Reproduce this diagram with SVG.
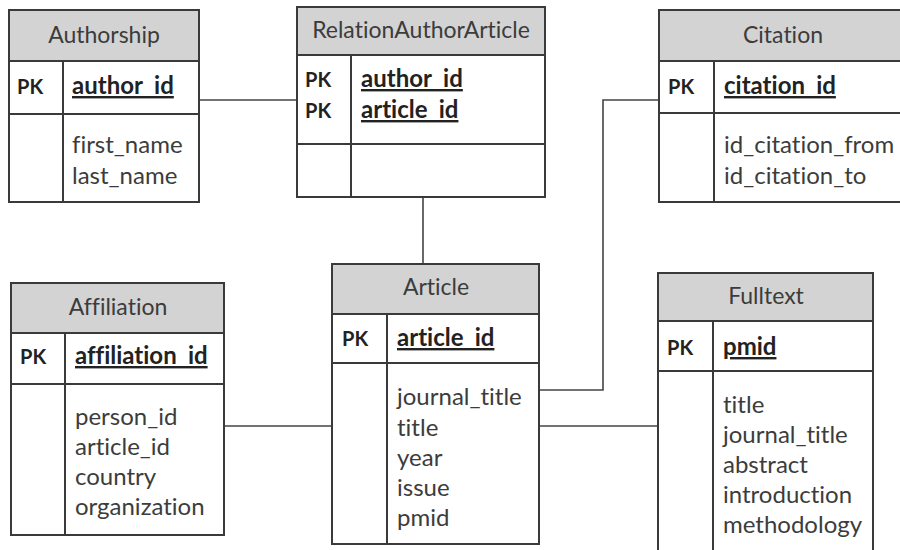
<svg xmlns="http://www.w3.org/2000/svg" width="900" height="550" viewBox="0 0 900 550">
<style>
.box{fill:#fff;stroke:#3a3a3a;stroke-width:2}
.hdr{fill:#d3d3d3;stroke:#3a3a3a;stroke-width:2}
.ln{stroke:#3a3a3a;stroke-width:2;fill:none}
.conn{stroke:#444;stroke-width:1.6;fill:none}
text{font-family:Lato,"Open Sans","DejaVu Sans",sans-serif;font-size:24px;fill:#3c3c3c;font-variant-ligatures:none}
.t{text-anchor:middle;font-size:23px}
.pk{font-weight:bold;fill:#222;font-size:20px}
.key{font-weight:bold;text-decoration:underline;fill:#222}
</style>
<rect width="900" height="550" fill="#fff"/>
<g id="connectors">
<path class="conn" d="M199 100H297"/>
<path class="conn" d="M423 197V264"/>
<path class="conn" d="M539 390H603V100H659"/>
<path class="conn" d="M224 426H332"/>
<path class="conn" d="M539 426H658"/>
</g>
<g id="authorship">
<rect class="box" x="9" y="10" width="190" height="192"/>
<rect class="hdr" x="9" y="10" width="190" height="51"/>
<path class="ln" d="M9 114H199M63 61V202"/>
<text class="t" x="104" y="43">Authorship</text>
<text class="pk" x="17" y="94">PK</text>
<text class="key" x="72" y="94">author_id</text>
<text x="72" y="153">first_name</text>
<text x="72" y="184">last_name</text>
</g>
<g id="relationauthorarticle">
<rect class="box" x="297" y="7" width="248" height="190"/>
<rect class="hdr" x="297" y="7" width="248" height="48"/>
<path class="ln" d="M297 144H545M351 55V197"/>
<text class="t" x="421" y="38">RelationAuthorArticle</text>
<text class="pk" x="305" y="87">PK</text>
<text class="pk" x="305" y="118">PK</text>
<text class="key" x="361" y="87">author_id</text>
<text class="key" x="361" y="118">article_id</text>
</g>
<g id="citation">
<rect class="box" x="659" y="10" width="250" height="192"/>
<rect class="hdr" x="659" y="10" width="250" height="51"/>
<path class="ln" d="M659 113H909M714 61V202"/>
<text class="t" x="783" y="43">Citation</text>
<text class="pk" x="668" y="94">PK</text>
<text class="key" x="724" y="94">citation_id</text>
<text x="724" y="153">id_citation_from</text>
<text x="724" y="184">id_citation_to</text>
</g>
<g id="affiliation">
<rect class="box" x="11" y="283" width="213" height="252"/>
<rect class="hdr" x="11" y="283" width="213" height="50"/>
<path class="ln" d="M11 384H224M65 333V535"/>
<text class="t" x="118" y="315">Affiliation</text>
<text class="pk" x="20" y="364">PK</text>
<text class="key" x="75" y="364">affiliation_id</text>
<text x="75" y="425">person_id</text>
<text x="75" y="455">article_id</text>
<text x="75" y="485">country</text>
<text x="75" y="515">organization</text>
</g>
<g id="article">
<rect class="box" x="332" y="264" width="207" height="280"/>
<rect class="hdr" x="332" y="264" width="207" height="50"/>
<path class="ln" d="M332 363H539M387 314V544"/>
<text class="t" x="436" y="295">Article</text>
<text class="pk" x="342" y="346">PK</text>
<text class="key" x="397" y="346">article_id</text>
<text x="397" y="405">journal_title</text>
<text x="397" y="436">title</text>
<text x="397" y="466">year</text>
<text x="397" y="496">issue</text>
<text x="397" y="526">pmid</text>
</g>
<g id="fulltext">
<rect class="box" x="658" y="273" width="215" height="300"/>
<rect class="hdr" x="658" y="273" width="215" height="48"/>
<path class="ln" d="M658 371H873M713 321V573"/>
<text class="t" x="766" y="304">Fulltext</text>
<text class="pk" x="667" y="355">PK</text>
<text class="key" x="723" y="355">pmid</text>
<text x="723" y="413">title</text>
<text x="723" y="443">journal_title</text>
<text x="723" y="473">abstract</text>
<text x="723" y="503">introduction</text>
<text x="723" y="533">methodology</text>
</g>
</svg>
